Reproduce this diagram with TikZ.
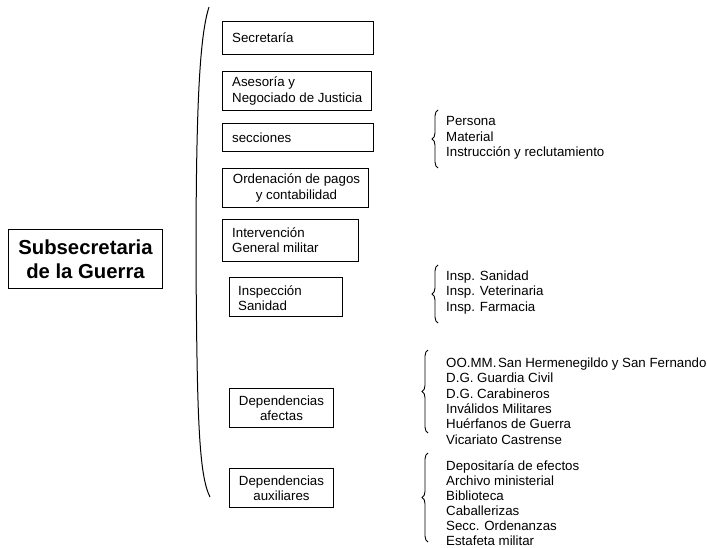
\documentclass[tikz,border=0pt]{standalone}
\usepackage{fontspec}
\setmainfont{Liberation Sans}
\usetikzlibrary{decorations.pathreplacing}
\tikzset{
  box/.style={draw, line width=1pt, rectangle, anchor=north west, inner sep=0pt},
  txt/.style={inner sep=0pt, font=\fontsize{13.3}{15.3}\selectfont},
  ltxt/.style={txt, anchor=west, align=left},
  ctxt/.style={txt, anchor=center, align=center},
  lst/.style={anchor=west, align=left, inner sep=0pt, font=\fontsize{13.3}{15.3}\selectfont},
  brc/.style={decorate, decoration={brace, amplitude=6pt}, line width=0.9pt},
}
\begin{document}
\begin{tikzpicture}[x=1pt,y=-1pt]
\useasboundingbox (0,0) rectangle (707,548);
% main
\node[draw, line width=1pt, anchor=north west, minimum width=154pt, minimum height=59pt, inner sep=0pt,
  align=center, font=\fontsize{20.3}{24.5}\selectfont\bfseries] (main) at (8,229) {Subsecretaria\\de la Guerra};
% big bracket
\draw[line width=1pt] (209,7) .. controls (200,35) and (196,100) .. (196,260)
  .. controls (197,420) and (199,475) .. (210,497);
% boxes
\node[box, minimum width=151pt, minimum height=33pt] (secr) at (222,21) {};
\node[ltxt] (secr-t) at ([xshift=10pt]secr.west) {Secretaría};
\node[box, minimum width=149pt, minimum height=39pt] (ases) at (222,71) {};
\node[ltxt] (ases-t) at ([xshift=10pt]ases.west) {Asesoría y\\Negociado de Justicia};
\node[box, minimum width=151pt, minimum height=28pt] (secc) at (222,123) {};
\node[ltxt] (secc-t) at ([xshift=10pt]secc.west) {secciones};
\node[box, minimum width=146pt, minimum height=39pt] (orde) at (222,168) {};
\node[ctxt] (orde-t) at ([xshift=1pt]orde.center) {Ordenación de pagos\\y contabilidad};
\node[box, minimum width=136pt, minimum height=42pt] (inte) at (222,219) {};
\node[ltxt] (inte-t) at ([xshift=10pt]inte.west) {Intervención\\General militar};
\node[box, minimum width=113pt, minimum height=39pt] (insp) at (229,277) {};
\node[ltxt] (insp-t) at ([xshift=9pt,yshift=-1pt]insp.west) {Inspección\\Sanidad};
\node[box, minimum width=104pt, minimum height=39pt] (dafe) at (229,388) {};
\node[ctxt] (dafe-t) at (dafe.center) {Dependencias\\afectas};
\node[box, minimum width=104pt, minimum height=39pt] (daux) at (229,468) {};
\node[ctxt] (daux-t) at (daux.center) {Dependencias\\auxiliares};
% braces
\draw[brc] (438,168) -- (438,110);
\draw[brc] (438,323) -- (438,265);
\draw[brc] (428,433) -- (428,350);
\draw[brc] (428,542) -- (428,453);
% lists
\node[lst] (l1) at (446,138) {Persona\\Material\\Instrucción y reclutamiento};
\node[lst] (l2) at (446,292.5) {Insp. Sanidad\\Insp. Veterinaria\\Insp. Farmacia};
\node[lst, font=\fontsize{13.3}{15.4}\selectfont] (l3) at (446,401) {OO.MM.\hspace{0.12em}San Hermenegildo y San Fernando\\D.G. Guardia Civil\\D.G. Carabineros\\Inválidos Militares\\Huérfanos de Guerra\\Vicariato Castrense};
\node[lst, font=\fontsize{13.3}{15.0}\selectfont] (l4) at (446,503) {Depositaría de efectos\\Archivo ministerial\\Biblioteca\\Caballerizas\\Secc. Ordenanzas\\Estafeta militar};
\end{tikzpicture}
\end{document}
